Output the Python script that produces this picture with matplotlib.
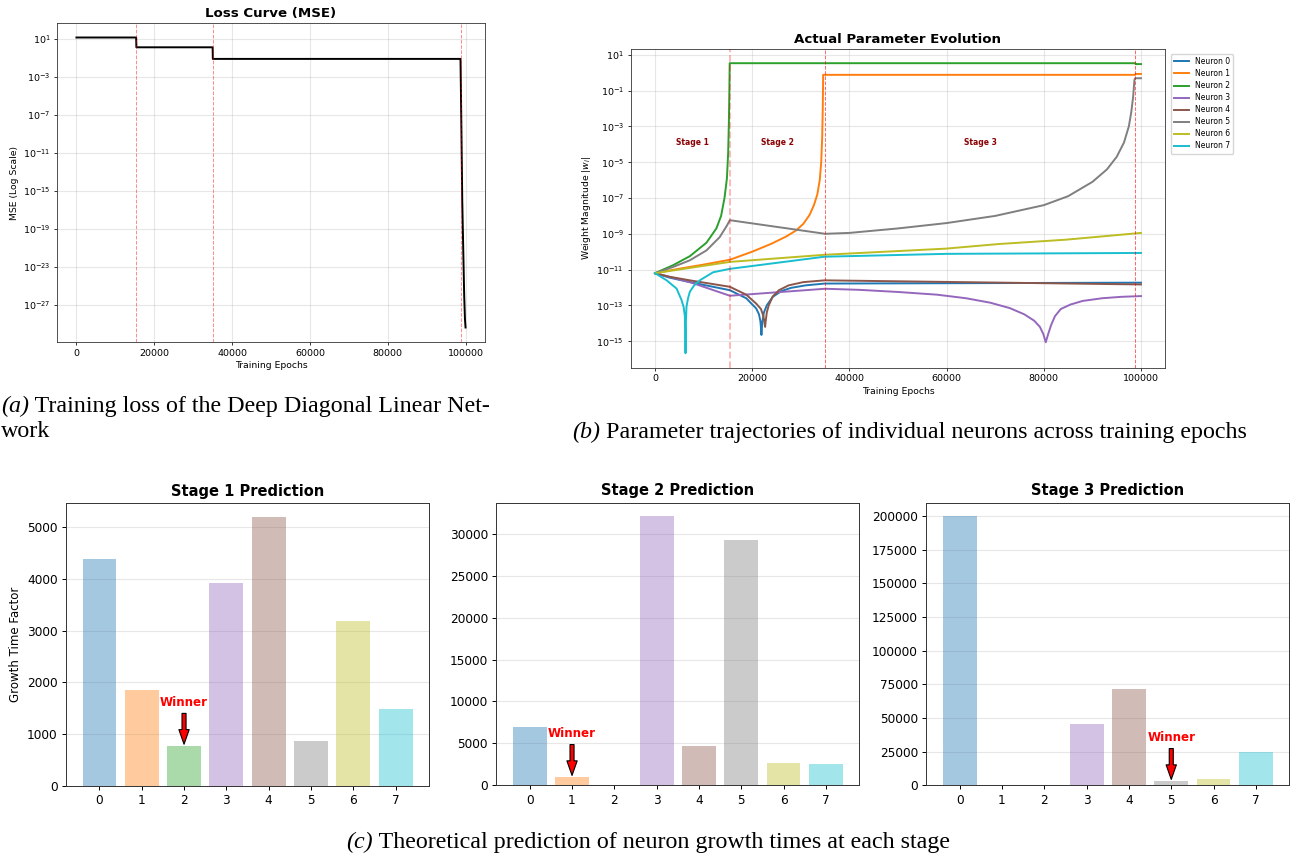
import matplotlib.pyplot as plt
import numpy as np

W, H = 1291, 856

colors = ['#1f77b4', '#ff7f0e', '#2ca02c', '#9467bd',
          '#8c564b', '#7f7f7f', '#bcbd22', '#17becf']

# (a) loss curve
loss_epochs = [0, 15350, 15400, 35000, 35050, 98700, 98800, 98950, 99150, 99400, 99650, 99850, 100000]
loss_mse = [14.0, 14.0, 1.3, 1.3, 0.078, 0.078, 1e-4, 1e-9, 1e-16, 1e-21, 1e-26, 3e-29, 4e-30]
stage_bounds = [15400, 35000, 98800]

# (b) weight trajectories, log10 |w|
n0_ep = [0, 3000, 7170, 15400, 18770, 20820, 21400, 21700, 21850, 21900, 21950, 22100, 22400, 23000,
         24230, 26000, 28000, 31000, 34880, 100000]
n0_lg = [-11.2, -11.45, -11.7, -12.15, -12.6, -13.17, -13.5, -13.9, -14.4, -14.65, -14.4, -13.9, -13.4, -13.0,
         -12.52, -12.2, -12.02, -11.88, -11.78, -11.73]
n1_ep = [0, 5000, 10000, 15400, 20000, 24000, 27000, 29000, 30500, 31800, 32700, 33400, 33900, 34200,
         34400, 34520, 34600, 98800, 98900, 100000]
n1_lg = [-11.2, -10.95, -10.72, -10.45, -10.0, -9.55, -9.15, -8.82, -8.45, -7.95, -7.4, -6.8, -6.0, -5.0,
         -3.6, -2.0, -0.12, -0.12, -0.07, -0.07]
n2_ep = [0, 3750, 7170, 10580, 12630, 13600, 14300, 14800, 15050, 15200, 15300, 15370, 98800, 98900, 100000]
n2_lg = [-11.2, -10.75, -10.25, -9.5, -8.7, -8.0, -7.0, -5.9, -4.5, -2.8, -1.0, 0.53, 0.53, 0.48, 0.48]
n3_ep = [0, 7170, 15400, 35000, 42000, 50000, 58000, 64000, 69000, 73000, 76000, 78000, 79200, 79900,
         80400, 80900, 81500, 82300, 83500, 85500, 88000, 92000, 96000, 100000]
n3_lg = [-11.2, -11.7, -12.46, -12.07, -12.13, -12.25, -12.4, -12.6, -12.85, -13.15, -13.5, -13.85, -14.2, -14.6,
         -15.06, -14.6, -14.1, -13.6, -13.2, -12.95, -12.75, -12.6, -12.52, -12.48]
n4_ep = [0, 3000, 7170, 15400, 18770, 20820, 21800, 22300, 22550, 22660, 22770, 23000, 23400, 24230,
         25500, 27500, 30500, 34880, 100000]
n4_lg = [-11.2, -11.4, -11.6, -11.96, -12.4, -12.9, -13.2, -13.6, -14.0, -14.2, -13.9, -13.4, -13.0, -12.5,
         -12.15, -11.88, -11.7, -11.6, -11.83]
n5_ep = [0, 3750, 7170, 10580, 13300, 14800, 15400, 35000, 40000, 50000, 60000, 70000, 80000, 85000,
         90000, 93000, 95000, 96500, 97500, 98000, 98400, 98650, 98800, 100000]
n5_lg = [-11.2, -10.85, -10.48, -9.93, -9.19, -8.54, -8.24, -9.0, -8.95, -8.7, -8.4, -8.0, -7.4, -6.9,
         -6.1, -5.4, -4.7, -3.9, -3.0, -2.2, -1.3, -0.4, -0.31, -0.31]
n6_ep = [0, 15400, 35000, 59800, 70800, 84500, 100000]
n6_lg = [-11.2, -10.57, -10.17, -9.83, -9.57, -9.33, -8.95]
n7_ep = [0, 2400, 4440, 5460, 5900, 6140, 6220, 6280, 6350, 6480, 6800, 7170, 8000, 9220, 11950, 15360,
         34880, 60000, 100000]
n7_lg = [-11.2, -11.6, -12.06, -12.7, -13.1, -13.6, -14.3, -15.67, -14.0, -13.07, -12.6, -12.24, -11.9, -11.6,
         -11.15, -10.96, -10.28, -10.12, -10.07]

neuron_epochs = [n0_ep, n1_ep, n2_ep, n3_ep, n4_ep, n5_ep, n6_ep, n7_ep]
neuron_logw = [n0_lg, n1_lg, n2_lg, n3_lg, n4_lg, n5_lg, n6_lg, n7_lg]
stage_labels = ['Stage 1', 'Stage 2', 'Stage 3']
stage_label_x = [7700, 25200, 66900]

# (c) predicted growth times
neurons = np.arange(8)
stage1_vals = [4380, 1855, 766, 3913, 5200, 863, 3193, 1475]
stage2_vals = [7000, 955, 0, 32100, 4700, 29200, 2665, 2510]
stage3_vals = [200000, 0, 0, 45400, 71700, 2980, 4690, 24560]
winners = [2, 1, 5]


def box(l, t, r, b):
    return [l / W, 1 - b / H, (r - l) / W, (b - t) / H]


fig = plt.figure(figsize=(W / 100, H / 100), dpi=100)

# ---- (a) loss
ax1 = fig.add_axes(box(57, 23, 485, 342))
ax1.plot(loss_epochs, loss_mse, color='black', lw=1.4)
for s in stage_bounds:
    ax1.axvline(s, color='red', ls='--', lw=0.7, alpha=0.45)
ax1.set_yscale('log')
ax1.set_yticks(10.0 ** np.arange(1, -28, -4))
ax1.yaxis.set_minor_locator(plt.NullLocator())
ax1.set_title('Loss Curve (MSE)', fontsize=9.6, fontweight='bold', pad=4)
ax1.set_xlabel('Training Epochs', fontsize=6.7, labelpad=2.5)
ax1.set_ylabel('MSE (Log Scale)', fontsize=6.7, labelpad=2.5)
ax1.grid(True, alpha=0.3)

# ---- (b) parameters
ax2 = fig.add_axes(box(630.7, 48.7, 1165.3, 367.7))
for i in range(8):
    ax2.plot(neuron_epochs[i], 10.0 ** np.array(neuron_logw[i]),
             color=colors[i], lw=1.4, label=f'Neuron {i}')
ax2.axvline(stage_bounds[0], color='red', ls='--', lw=1.3, alpha=0.3)
for s in stage_bounds[1:]:
    ax2.axvline(s, color='red', ls='--', lw=0.7, alpha=0.6)
for lab, xs in zip(stage_labels, stage_label_x):
    ax2.text(xs, 1.3e-4, lab, color='darkred', fontsize=5.5, fontweight='bold',
             ha='center', va='center')
ax2.set_yscale('log')
ax2.set_yticks(10.0 ** np.arange(1, -16, -2))
ax2.yaxis.set_minor_locator(plt.NullLocator())
ax2.set_title('Actual Parameter Evolution', fontsize=9.6, fontweight='bold', pad=4)
ax2.set_xlabel('Training Epochs', fontsize=6.7, labelpad=2.5)
ax2.set_ylabel(r'Weight Magnitude $|w_i|$', fontsize=6.7, labelpad=2.5)
ax2.grid(True, alpha=0.3)
ax2.legend(loc='upper left', bbox_to_anchor=(1, 1), fontsize=5.5,
           borderaxespad=0.7, handlelength=2.0, labelspacing=0.4)

for ax in (ax1, ax2):
    ax.tick_params(labelsize=6.8, length=2.4, width=0.55, pad=2.4)
    for sp in ax.spines.values():
        sp.set_linewidth(0.6)
        sp.set_color('#333333')

# ---- (c) bars
bar_boxes = [box(66, 503.3, 429, 785.7), box(496.3, 502.7, 859.3, 785.3),
             box(926.3, 502.7, 1289.3, 785.3)]
bar_vals = [stage1_vals, stage2_vals, stage3_vals]
bar_ticks = [np.arange(0, 5001, 1000), np.arange(0, 30001, 5000), np.arange(0, 200001, 25000)]
for k in range(3):
    ax = fig.add_axes(bar_boxes[k])
    vals = bar_vals[k]
    ax.bar(neurons, vals, color=colors, alpha=0.4, width=0.8)
    w = winners[k]
    ax.annotate('Winner', xy=(w, vals[w]), xytext=(w, vals[w] + max(vals) * 0.15),
                ha='center', color='red', fontweight='bold', fontsize=8.6,
                arrowprops=dict(facecolor='red', edgecolor='black', lw=0.8,
                                shrink=0.05, width=2.9, headwidth=7.4, headlength=10.5))
    ax.set_title(f'Stage {k + 1} Prediction', fontsize=10.5, fontweight='bold', pad=5.2)
    ax.set_xticks(neurons)
    ax.set_yticks(bar_ticks[k])
    ax.grid(True, axis='y', alpha=0.3)
    ax.set_axisbelow(True)
    ax.tick_params(labelsize=8.7, length=3, width=0.7, pad=3)
    for sp in ax.spines.values():
        sp.set_linewidth(0.7)
        sp.set_color('#333333')
    if k == 0:
        ax.set_ylabel('Growth Time Factor', fontsize=8.5, labelpad=3.5)

# ---- captions
cap_font = dict(family='Liberation Serif', fontsize=17.3)
renderer = fig.canvas.get_renderer()


def caption(x_px, base_px, tag, rest, center=False):
    t1 = fig.text(0, 0, tag, fontstyle='italic', va='baseline', **cap_font)
    t2 = fig.text(0, 0, ' ' + rest, va='baseline', **cap_font)
    w1 = t1.get_window_extent(renderer).width
    w2 = t2.get_window_extent(renderer).width
    x0 = x_px - (w1 + w2) / 2 if center else x_px
    t1.set_position((x0 / W, 1 - base_px / H))
    t2.set_position(((x0 + w1) / W, 1 - base_px / H))


caption(1, 412, '(a)', 'Training loss of the Deep Diagonal Linear Net-')
fig.text(1 / W, 1 - 437 / H, 'work', va='baseline', **cap_font)
caption(572, 438, '(b)', 'Parameter trajectories of individual neurons across training epochs')
caption(648, 848, '(c)', 'Theoretical prediction of neuron growth times at each stage', center=True)

fig.savefig('out.png', dpi=100)
